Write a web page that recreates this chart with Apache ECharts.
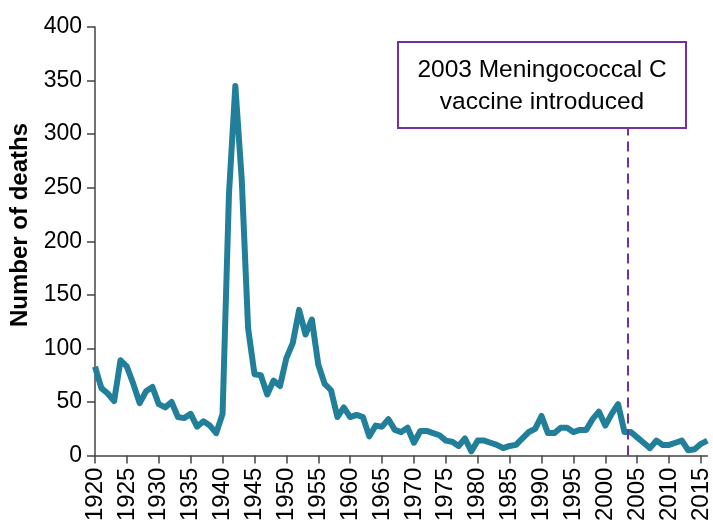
<!DOCTYPE html>
<html>
<head>
<meta charset="utf-8">
<script src="https://cdn.jsdelivr.net/npm/echarts@6/dist/echarts.min.js"></script>
<style>
  html, body { margin: 0; padding: 0; background: #fff; }
  #chart { width: 713px; height: 524px; }
</style>
</head>
<body>
<div id="chart"></div>
<script>
// yearly deaths
const years = [
  1920, 1921, 1922, 1923, 1924, 1925, 1926, 1927, 1928, 1929,
  1930, 1931, 1932, 1933, 1934, 1935, 1936, 1937, 1938, 1939,
  1940, 1941, 1942, 1943, 1944, 1945, 1946, 1947, 1948, 1949,
  1950, 1951, 1952, 1953, 1954, 1955, 1956, 1957, 1958, 1959,
  1960, 1961, 1962, 1963, 1964, 1965, 1966, 1967, 1968, 1969,
  1970, 1971, 1972, 1973, 1974, 1975, 1976, 1977, 1978, 1979,
  1980, 1981, 1982, 1983, 1984, 1985, 1986, 1987, 1988, 1989,
  1990, 1991, 1992, 1993, 1994, 1995, 1996, 1997, 1998, 1999,
  2000, 2001, 2002, 2003, 2004, 2005, 2006, 2007, 2008, 2009,
  2010, 2011, 2012, 2013, 2014, 2015, 2016
]
const deaths = [
  83, 63, 58, 51, 89, 83, 67, 49, 60, 64,
  48, 45, 50, 36, 35, 39, 27, 32, 28, 21,
  39, 244, 345, 258, 119, 76, 75, 57, 70, 65,
  91, 105, 136, 113, 127, 85, 67, 61, 36, 45,
  36, 38, 36, 18, 28, 27, 34, 24, 22, 26,
  12, 23, 23, 21, 19, 14, 13, 9, 16, 4,
  14, 14, 12, 10, 7, 9, 10, 16, 22, 25,
  37, 21, 21, 26, 26, 22, 24, 24, 34, 41,
  28, 39, 48, 22, 22, 17, 12, 7, 14, 10,
  10, 12, 14, 5, 6, 11, 14
]
const xTicks = [
  1920, 1925, 1930, 1935, 1940, 1945, 1950, 1955, 1960, 1965,
  1970, 1975, 1980, 1985, 1990, 1995, 2000, 2005, 2010, 2015
]
const yTicks = [0, 50, 100, 150, 200, 250, 300, 350, 400]

// vaccine marker: dashed line runs from the axis up to the note box
const vaccineYear = 2003.5
const vaccineLineTop = 306
const noteLines = ['2003 Meningococcal C', 'vaccine introduced']

const font = 'Liberation Sans, Arial, sans-serif'
const axisColor = '#444'

let chart = echarts.init(document.getElementById('chart'), null, { renderer: 'canvas' })

chart.setOption({
  animation: false,
  grid: { left: 95, right: 3, top: 27, bottom: 65 },
  xAxis: {
    type: 'value',
    min: 1920,
    max: 2016,
    splitLine: { show: false },
    axisLine: { show: true, lineStyle: { color: axisColor, width: 1.5 } },
    axisTick: { show: true, length: 8, customValues: xTicks, lineStyle: { color: axisColor, width: 1.5 } },
    axisLabel: {
      customValues: xTicks,
      formatter: v => String(v),
      rotate: 90,
      margin: 12,
      color: '#000',
      fontSize: 24,
      fontFamily: font
    }
  },
  yAxis: {
    type: 'value',
    min: yTicks[0],
    max: yTicks[yTicks.length - 1],
    interval: 50,
    splitLine: { show: false },
    axisLine: { show: true, lineStyle: { color: axisColor, width: 1.5 } },
    axisTick: { show: true, length: 8, lineStyle: { color: axisColor, width: 1.5 } },
    axisLabel: {
      margin: 13,
      color: '#000',
      fontSize: 23,
      fontFamily: font
    }
  },
  series: [{
    type: 'line',
    data: years.map((y, i) => [y, deaths[i]]),
    showSymbol: false,
    lineStyle: { color: '#217f99', width: 6, join: 'round' },
    itemStyle: { color: '#217f99' },
    markLine: {
      silent: true,
      symbol: 'none',
      label: { show: false },
      lineStyle: { color: '#7030a0', width: 2, type: [10, 6] },
      data: [[
        { coord: [vaccineYear, 0] },
        { coord: [vaccineYear, vaccineLineTop] }
      ]]
    }
  }],
  graphic: [
    {
      type: 'text',
      x: 20,
      y: 225,
      rotation: Math.PI / 2,
      style: {
        text: 'Number of deaths',
        fontSize: 24,
        fontWeight: 'bold',
        fontFamily: font,
        fill: '#000',
        align: 'center',
        verticalAlign: 'middle'
      }
    },
    {
      type: 'rect',
      shape: { x: 398, y: 42, width: 288, height: 86 },
      style: { fill: '#fff', stroke: '#7030a0', lineWidth: 2 },
      z: 10
    },
    {
      type: 'text',
      x: 542,
      y: 86,
      z: 11,
      style: {
        text: noteLines.join('\n'),
        fontSize: 24.5,
        lineHeight: 32,
        fontFamily: font,
        fill: '#000',
        align: 'center',
        verticalAlign: 'middle'
      }
    }
  ]
})
</script>
</body>
</html>
